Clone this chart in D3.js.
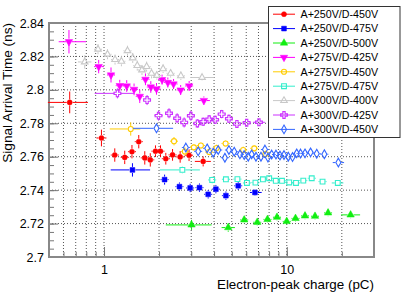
<!DOCTYPE html>
<html>
<head>
<meta charset="utf-8">
<script src="https://cdn.jsdelivr.net/npm/d3@7"></script>
<style>
  body { margin: 0; background: #fff; }
  text { font-family: "Liberation Sans", Arial, sans-serif; }
</style>
</head>
<body>
<script>
// each point: [charge, time, timeErr, chargeLow, chargeHigh]
// (low/high only where the horizontal bar is wider than the marker)
const a250d450 = [
  [0.649, 2.7925, 0.0065, 0.493, 0.817],
  [0.968, 2.7712, 0.0050, 0.909, 1.031],
  [1.145, 2.7610, 0.0040],
  [1.298, 2.7596, 0.0040],
  [1.422, 2.7630, 0.0040],
  [1.549, 2.7690, 0.0040],
  [1.671, 2.7593, 0.0040],
  [1.791, 2.7581, 0.0040],
  [1.912, 2.7633, 0.0035],
  [2.037, 2.7633, 0.0035],
  [2.178, 2.7588, 0.0035],
  [2.371, 2.7611, 0.0035],
  [2.609, 2.7599, 0.0035],
  [2.919, 2.7609, 0.0035],
  [3.487, 2.7572, 0.0030, 3.14, 3.843]
];
const a250d475 = [
  [1.431, 2.7521, 0.0040, 1.088, 1.787],
  [2.145, 2.7463, 0.0030],
  [2.586, 2.7421, 0.0025],
  [2.960, 2.7413, 0.0025],
  [3.328, 2.7415, 0.0025],
  [3.714, 2.7375, 0.0025],
  [4.094, 2.7406, 0.0025],
  [4.644, 2.7367, 0.0025],
  [5.423, 2.7426, 0.0025],
  [6.696, 2.7386, 0.0020, 6.285, 7.287]
];
const a250d500 = [
  [3.012, 2.7192, 0.0030, 2.178, 3.877],
  [4.782, 2.7176, 0.0025, 4.399, 5.202],
  [5.848, 2.7222, 0.0020],
  [6.893, 2.7208, 0.0020],
  [7.840, 2.7225, 0.0020],
  [8.837, 2.7238, 0.0020],
  [9.990, 2.7213, 0.0020],
  [11.16, 2.7231, 0.0020],
  [12.58, 2.7246, 0.0020],
  [14.27, 2.7244, 0.0020],
  [16.82, 2.7264, 0.0020],
  [22.34, 2.7252, 0.0020, 19.82, 25.18]
];
const a275d425 = [
  [0.643, 2.8288, 0.0070, 0.565, 0.797],
  [0.935, 2.8139, 0.0040, 0.882, 1.000],
  [1.092, 2.8089, 0.0045],
  [1.219, 2.8025, 0.0035],
  [1.331, 2.8023, 0.0035],
  [1.460, 2.8003, 0.0035],
  [1.569, 2.7961, 0.0040],
  [1.686, 2.8063, 0.0035],
  [1.803, 2.8017, 0.0035],
  [1.937, 2.8006, 0.0035],
  [2.078, 2.8061, 0.0030],
  [2.234, 2.8044, 0.0030],
  [2.401, 2.8035, 0.0030],
  [2.626, 2.7999, 0.0030],
  [2.923, 2.8023, 0.0030],
  [3.518, 2.7936, 0.0025, 3.274, 3.795]
];
const a275d450 = [
  [1.400, 2.7766, 0.0040, 1.075, 1.579],
  [2.415, 2.7693, 0.0025],
  [2.768, 2.7631, 0.0025],
  [3.101, 2.7656, 0.0020],
  [3.388, 2.7667, 0.0020],
  [3.761, 2.7628, 0.0020],
  [4.129, 2.7652, 0.0020],
  [4.626, 2.7679, 0.0020],
  [5.774, 2.7640, 0.0020],
  [6.636, 2.7650, 0.0020],
  [7.643, 2.7616, 0.0020]
];
const a275d475 = [
  [2.683, 2.7521, 0.0020, 2.020, 3.345],
  [3.906, 2.7461, 0.0020],
  [4.644, 2.7465, 0.0015],
  [5.370, 2.7466, 0.0015],
  [6.052, 2.7443, 0.0015],
  [6.738, 2.7445, 0.0015],
  [7.405, 2.7465, 0.0015],
  [8.010, 2.7471, 0.0015],
  [8.705, 2.7456, 0.0015],
  [9.412, 2.7456, 0.0015],
  [10.31, 2.7446, 0.0015],
  [11.23, 2.7443, 0.0015],
  [12.31, 2.7457, 0.0015],
  [13.69, 2.7471, 0.0015],
  [15.69, 2.7451, 0.0015],
  [19.01, 2.7443, 0.0015, 17.62, 20.40]
];
const a300d400 = [
  [0.784, 2.8167, 0.0040, 0.720, 0.853],
  [0.927, 2.8243, 0.0030],
  [1.045, 2.8213, 0.0030],
  [1.149, 2.8181, 0.0030],
  [1.245, 2.8171, 0.0030],
  [1.344, 2.8234, 0.0030],
  [1.436, 2.8191, 0.0030],
  [1.520, 2.8145, 0.0030],
  [1.613, 2.8119, 0.0030],
  [1.710, 2.8139, 0.0030],
  [1.819, 2.8099, 0.0030],
  [1.945, 2.8086, 0.0025],
  [2.105, 2.8126, 0.0025],
  [2.314, 2.8099, 0.0025],
  [2.633, 2.8084, 0.0025],
  [3.439, 2.8074, 0.0020, 2.997, 3.981]
];
const a300d425 = [
  [1.184, 2.7979, 0.0030, 0.889, 1.460],
  [1.720, 2.7939, 0.0030],
  [1.987, 2.7846, 0.0030],
  [2.268, 2.7860, 0.0030],
  [2.512, 2.7830, 0.0030],
  [2.744, 2.7805, 0.0030],
  [2.987, 2.7845, 0.0030],
  [3.242, 2.7799, 0.0025],
  [3.487, 2.7809, 0.0025],
  [3.761, 2.7824, 0.0025],
  [4.053, 2.7821, 0.0025],
  [4.404, 2.7855, 0.0025],
  [4.824, 2.7827, 0.0025],
  [5.335, 2.7796, 0.0020],
  [6.030, 2.7803, 0.0020],
  [7.042, 2.7806, 0.0020, 6.529, 7.594]
];
const a300d450 = [
  [1.937, 2.7770, 0.0020, 1.442, 2.388],
  [2.804, 2.7655, 0.0020],
  [3.274, 2.7632, 0.0020],
  [3.668, 2.7650, 0.0020],
  [3.957, 2.7624, 0.0020],
  [4.215, 2.7640, 0.0020],
  [4.585, 2.7594, 0.0020],
  [4.824, 2.7640, 0.0020],
  [5.157, 2.7630, 0.0020],
  [5.541, 2.7614, 0.0020],
  [5.848, 2.7610, 0.0020],
  [6.152, 2.7600, 0.0020],
  [6.423, 2.7614, 0.0020],
  [6.782, 2.7600, 0.0020],
  [7.222, 2.7600, 0.0020],
  [7.594, 2.7643, 0.0020],
  [7.889, 2.7595, 0.0020],
  [8.267, 2.7613, 0.0020],
  [8.727, 2.7613, 0.0020],
  [9.178, 2.7607, 0.0020],
  [9.654, 2.7610, 0.0020],
  [10.19, 2.7600, 0.0020],
  [10.75, 2.7598, 0.0020],
  [11.33, 2.7620, 0.0020],
  [11.89, 2.7619, 0.0020],
  [12.58, 2.7620, 0.0020],
  [13.49, 2.7626, 0.0020],
  [14.58, 2.7618, 0.0020],
  [16.05, 2.7615, 0.0020],
  [19.15, 2.7565, 0.0020, 17.84, 20.58]
];

const seriesNames = ["A+250V/D-450V", "A+250V/D-475V", "A+250V/D-500V",
  "A+275V/D-425V", "A+275V/D-450V", "A+275V/D-475V",
  "A+300V/D-400V", "A+300V/D-425V", "A+300V/D-450V"];
const seriesData = [a250d450, a250d475, a250d500, a275d425, a275d450,
  a275d475, a300d400, a300d425, a300d450];
const seriesColors = ["#ff0000", "#0000ff", "#11ee11", "#ff00ff", "#ffcc00",
  "#33eecc", "#c8c8c8", "#cc33ff", "#3366ff"];
const seriesMarkers = ["circle", "square", "triUp", "triDown", "circleOpen",
  "squareOpen", "triUpOpen", "crossOpen", "diamondOpen"];

const xGridValues = [0.6, 0.7, 0.8, 0.9, 1, 2, 3, 4, 5, 6, 7, 8, 9, 10, 20];
const xTickLabels = [1, 10];
const yTickLabels = [2.7, 2.72, 2.74, 2.76, 2.78, 2.8, 2.82, 2.84];

let margin = {top: 23, right: 33, bottom: 35, left: 49};
let width = 407 - margin.left - margin.right;
let height = 292 - margin.top - margin.bottom;

let x = d3.scaleLog().domain([0.5, 30]).range([0, width]);
let y = d3.scaleLinear().domain([2.7, 2.84]).range([height, 0]);

let svgRoot = d3.select("body").append("svg")
  .attr("width", 407)
  .attr("height", 292);
svgRoot.append("rect").attr("width", 407).attr("height", 292).attr("fill", "#fff");

let svg = svgRoot.append("g")
  .attr("transform", "translate(" + margin.left + "," + margin.top + ")");

// dotted grid
let grid = svg.append("g")
  .attr("stroke", "#555")
  .attr("stroke-width", 1)
  .attr("stroke-dasharray", "1,2");
grid.selectAll(".gx").data(xGridValues).enter().append("line")
  .attr("x1", d => x(d)).attr("x2", d => x(d))
  .attr("y1", 0).attr("y2", height);
grid.selectAll(".gy").data(yTickLabels.slice(1, -1)).enter().append("line")
  .attr("x1", 0).attr("x2", width)
  .attr("y1", d => y(d)).attr("y2", d => y(d));

// axes
let yMinor = d3.range(2.7, 2.8401, 0.005);
svg.append("g")
  .call(d3.axisLeft(y).tickValues(yMinor).tickSize(-5).tickFormat(""))
  .call(g => g.select(".domain").remove())
  .selectAll("line").attr("stroke", "#777");
let yAxis = svg.append("g")
  .call(d3.axisLeft(y).tickValues(yTickLabels).tickSize(-9).tickPadding(5)
    .tickFormat(d => String(+d.toFixed(2))));
yAxis.select(".domain").remove();
yAxis.selectAll("line").attr("stroke", "#777");
yAxis.selectAll("text").attr("font-size", "12.5px").attr("fill", "#000")
  .attr("font-family", "Liberation Sans, Arial, sans-serif");

svg.append("g")
  .attr("transform", "translate(0," + height + ")")
  .call(d3.axisBottom(x).tickValues(xGridValues).tickSize(-5).tickFormat(""))
  .call(g => g.select(".domain").remove())
  .selectAll("line").attr("stroke", "#777");
let xAxis = svg.append("g")
  .attr("transform", "translate(0," + height + ")")
  .call(d3.axisBottom(x).tickValues(xTickLabels).tickSize(-10).tickPadding(8)
    .tickFormat(d3.format("d")));
xAxis.select(".domain").remove();
xAxis.selectAll("line").attr("stroke", "#777");
xAxis.selectAll("text").attr("font-size", "12.5px").attr("fill", "#000")
  .attr("font-family", "Liberation Sans, Arial, sans-serif");

// frame
svg.append("rect")
  .attr("width", width).attr("height", height)
  .attr("fill", "none").attr("stroke", "#888").attr("stroke-width", 2);

// axis titles
svgRoot.append("text")
  .attr("x", margin.left + width).attr("y", 288.5)
  .attr("text-anchor", "end")
  .attr("font-size", "13.4px")
  .text("Electron-peak charge (pC)");
svgRoot.append("text")
  .attr("transform", "translate(12," + margin.top + ") rotate(-90)")
  .attr("text-anchor", "end")
  .attr("font-size", "13.6px")
  .text("Signal Arrival Time (ns)");

// marker shapes
function markerPath(kind) {
  let sym = d3.symbol();
  if (kind === "circle" || kind === "circleOpen") sym.type(d3.symbolCircle).size(20);
  else if (kind === "square" || kind === "squareOpen") sym.type(d3.symbolSquare).size(23);
  else if (kind === "triUp" || kind === "triDown") sym.type(d3.symbolTriangle).size(24);
  else if (kind === "triUpOpen") sym.type(d3.symbolTriangle).size(19);
  else if (kind === "crossOpen") sym.type(d3.symbolCross).size(26);
  else sym.type(d3.symbolDiamond).size(22);
  return sym();
}
function drawMarker(g, kind, color, cx, cy) {
  let open = kind.endsWith("Open");
  g.append("path")
    .attr("d", markerPath(kind))
    .attr("transform", "translate(" + cx + "," + cy + ")" + (kind === "triDown" ? " rotate(180)" : ""))
    .attr("fill", open ? "none" : color)
    .attr("stroke", color)
    .attr("stroke-width", open ? 1.1 : 0.5);
}

// data: error bars with a gap round the marker, then markers
let gap = 3, tick = 4;
seriesData.forEach((pts, i) => {
  let color = seriesColors[i];
  let g = svg.append("g");
  pts.forEach(p => {
    let cx = x(p[0]), cy = y(p[1]);
    let yTop = y(p[1] + p[2]), yBot = y(p[1] - p[2]);
    let xL = p.length > 3 ? x(p[3]) : cx - tick;
    let xR = p.length > 3 ? x(p[4]) : cx + tick;
    let segs = [];
    if (cy - yTop > gap) segs.push([cx, cy - gap, cx, yTop], [cx, cy + gap, cx, yBot]);
    if (cx - xL > gap) segs.push([cx - gap, cy, xL, cy]);
    if (xR - cx > gap) segs.push([cx + gap, cy, xR, cy]);
    segs.forEach(s => g.append("line")
      .attr("x1", s[0]).attr("y1", s[1]).attr("x2", s[2]).attr("y2", s[3])
      .attr("stroke", color).attr("stroke-width", 1));
    drawMarker(g, seriesMarkers[i], color, cx, cy);
  });
});

// legend
let legend = svgRoot.append("g");
legend.append("rect")
  .attr("x", 268.5).attr("y", 6.5).attr("width", 131.5).attr("height", 131)
  .attr("fill", "#fff").attr("stroke", "#333").attr("stroke-width", 1);
seriesNames.forEach((name, i) => {
  let ly = 14.2 + i * 14.4;
  legend.append("line")
    .attr("x1", 273).attr("x2", 295).attr("y1", ly).attr("y2", ly)
    .attr("stroke", seriesColors[i]).attr("stroke-width", 1);
  drawMarker(legend, seriesMarkers[i], seriesColors[i], 284, ly);
  legend.append("text")
    .attr("x", 300.5).attr("y", ly).attr("dy", "0.36em")
    .attr("font-size", "10.7px")
    .text(name);
});
</script>
</body>
</html>
